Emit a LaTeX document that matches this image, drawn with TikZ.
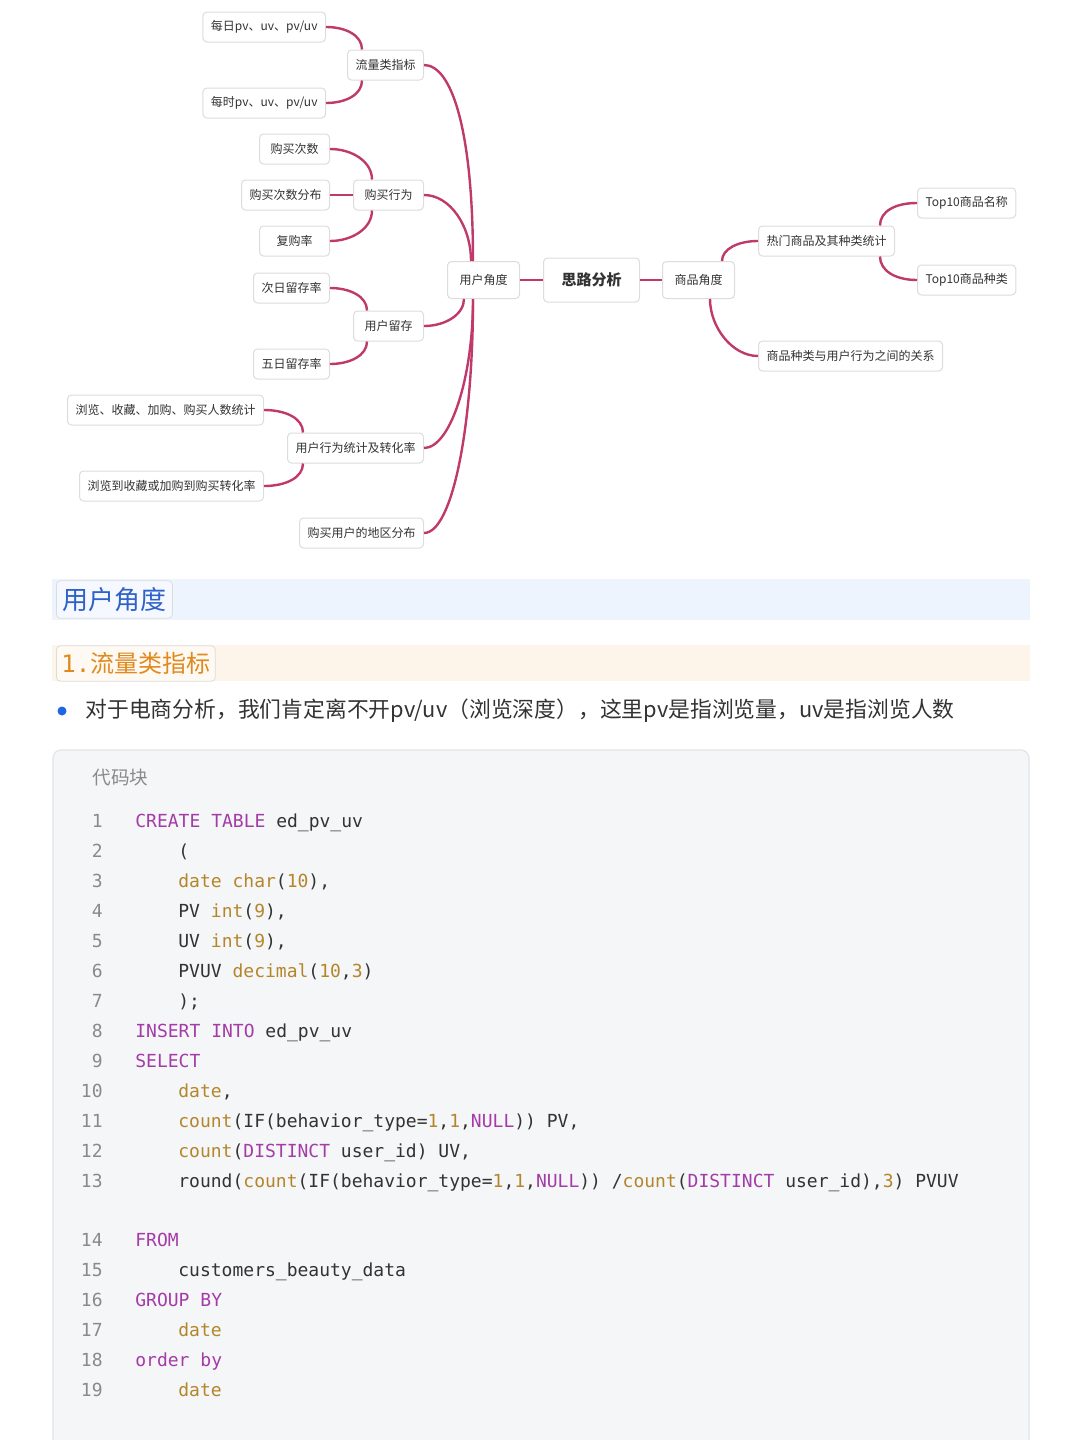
\documentclass[tikz,border=0pt]{standalone}
\usepackage{fontspec}
\setmainfont{Noto Sans CJK SC}
\setmonofont{DejaVu Sans Mono}
\usepackage{xcolor}
\usetikzlibrary{positioning}

\definecolor{lianxian}{HTML}{BF3A6A}
\definecolor{kuangxian}{HTML}{DCDCDC}
\definecolor{wenzi}{HTML}{333333}
\definecolor{lanse}{HTML}{EEF4FD}
\definecolor{biaotilan}{HTML}{2F62C8}
\definecolor{chengse}{HTML}{FEF5EA}
\definecolor{biaotcheng}{HTML}{E08A1E}
\definecolor{diandian}{HTML}{1F66E0}
\definecolor{daimadi}{HTML}{F5F6F7}
\definecolor{daimakuang}{HTML}{E2E4E6}
\definecolor{guanjianzi}{HTML}{A43BA8}
\definecolor{hanshu}{HTML}{B4862B}
\definecolor{hanghao}{HTML}{8A8A8A}

\newcommand{\kw}[1]{\textcolor{guanjianzi}{#1}}
\newcommand{\fn}[1]{\textcolor{hanshu}{#1}}

\tikzset{
  kuang/.style={draw=kuangxian, fill=white, rounded corners=2pt, line width=0.5pt,
    inner xsep=4pt, inner ysep=0pt, minimum height=15pt, minimum width=35pt, text=wenzi,
    font=\fontsize{6}{7}\selectfont},
  lian/.style={draw=lianxian, line width=1.2pt},
  daima/.style={anchor=west, inner sep=0pt, text=wenzi, text height=6.6pt, text depth=0pt,
    font=\ttfamily\fontsize{9}{11}\selectfont},
  hao/.style={anchor=east, inner sep=0pt, text=hanghao, text height=6.6pt, text depth=0pt,
    font=\ttfamily\fontsize{9}{11}\selectfont}
}

\begin{document}
\begin{tikzpicture}[x=0.5pt, y=-0.5pt]
    \useasboundingbox (0,0) rectangle (1080,1440);

    % 节点

    \node[kuang, anchor=east] (meiri) at (326,27) {每日pv、uv、pv/uv};
    \node[kuang, anchor=east] (liuliang) at (424,65) {流量类指标};
    \node[kuang, anchor=east] (meishi) at (326,103) {每时pv、uv、pv/uv};
    \node[kuang, anchor=east] (cishu) at (330,149) {购买次数};
    \node[kuang, anchor=east] (fenbu) at (330,195) {购买次数分布};
    \node[kuang, anchor=east] (goumai) at (424,195) {购买行为};
    \node[kuang, anchor=east] (fugou) at (330,241) {复购率};
    \node[kuang, anchor=east] (ciri) at (330,288) {次日留存率};
    \node[kuang, anchor=east] (liucun) at (424,326) {用户留存};
    \node[kuang, anchor=east] (wuri) at (330,364) {五日留存率};
    \node[kuang, anchor=east] (renshu) at (264,410) {浏览、收藏、加购、购买人数统计};
    \node[kuang, anchor=east] (zhuanhua) at (424,448) {用户行为统计及转化率};
    \node[kuang, anchor=east] (zhuanhualv) at (264,486) {浏览到收藏或加购到购买转化率};
    \node[kuang, anchor=east] (diqu) at (424,533) {购买用户的地区分布};

    \node[kuang, anchor=east, minimum height=18.5pt, inner xsep=6pt] (yonghu) at (520,280) {用户角度};
    \node[kuang, minimum height=22pt, inner xsep=9pt, font=\bfseries\fontsize{7.5}{9}\selectfont] (silu) at (591.5,280) {思路分析};
    \node[kuang, anchor=west, minimum height=18.5pt, inner xsep=6pt] (shangpin) at (662,280) {商品角度};

    \node[kuang, anchor=west] (remen) at (758,241) {热门商品及其种类统计};
    \node[kuang, anchor=west] (mingcheng) at (917,203) {Top10商品名称};
    \node[kuang, anchor=west] (zhonglei) at (917,280) {Top10商品种类};
    \node[kuang, anchor=west] (guanxi) at (758,356) {商品种类与用户行为之间的关系};

    % 连线

    \draw[lian] (meiri.east) .. controls +(20,0) and +(0,-14) .. ([xshift=7.5pt]liuliang.north west);
    \draw[lian] (meishi.east) .. controls +(20,0) and +(0,14) .. ([xshift=7.5pt]liuliang.south west);
    \draw[lian] (cishu.east) .. controls +(22,0) and +(0,-18) .. ([xshift=9.5pt]goumai.north west);
    \draw[lian] (fenbu.east) -- (goumai.west);
    \draw[lian] (fugou.east) .. controls +(22,0) and +(0,18) .. ([xshift=9.5pt]goumai.south west);
    \draw[lian] (ciri.east) .. controls +(20,0) and +(0,-14) .. ([xshift=7pt]liucun.north west);
    \draw[lian] (wuri.east) .. controls +(20,0) and +(0,14) .. ([xshift=7pt]liucun.south west);
    \draw[lian] (renshu.east) .. controls +(22,0) and +(0,-14) .. ([xshift=8pt]zhuanhua.north west);
    \draw[lian] (zhuanhualv.east) .. controls +(22,0) and +(0,14) .. ([xshift=8pt]zhuanhua.south west);

    \draw[lian] (liuliang.east) .. controls +(28,0) and +(0,-130) .. ([xshift=13pt]yonghu.north west);
    \draw[lian] (goumai.east) .. controls +(26,0) and +(0,-35) .. ([xshift=12pt]yonghu.north west);
    \draw[lian] (liucun.east) .. controls +(22,0) and +(0,15) .. ([xshift=8.5pt]yonghu.south west);
    \draw[lian] (zhuanhua.east) .. controls +(26,0) and +(0,80) .. ([xshift=13pt]yonghu.south west);
    \draw[lian] (diqu.east) .. controls +(28,0) and +(0,130) .. ([xshift=13pt]yonghu.south west);

    \draw[lian] (yonghu.east) -- (silu.west);
    \draw[lian] (silu.east) -- (shangpin.west);

    \draw[lian] (remen.west) .. controls +(-20,0) and +(0,-12) .. ([xshift=-6.5pt]shangpin.north east);
    \draw[lian] (guanxi.west) .. controls +(-26,0) and +(0,28) .. ([xshift=24pt]shangpin.south west);
    \draw[lian] (mingcheng.west) .. controls +(-22,0) and +(0,-14) .. ([xshift=-7.5pt]remen.north east);
    \draw[lian] (zhonglei.west) .. controls +(-22,0) and +(0,14) .. ([xshift=-7.5pt]remen.south east);

    % 标题

    \fill[lanse] (52,579) rectangle (1030,620);
    \node[draw=kuangxian, fill=lanse!60!white, rounded corners=2pt, anchor=west, inner xsep=3pt,
      minimum height=18.5pt, text=biaotilan, font=\fontsize{13}{15}\selectfont] (biaoti) at (56,599.5) {用户角度};

    \fill[chengse] (52,645) rectangle (1030,681);
    \node[draw=kuangxian, fill=chengse!60!white, rounded corners=2pt, anchor=west, inner xsep=2.5pt,
      minimum height=16.5pt, text=biaotcheng, font=\fontsize{12}{14}\selectfont] (xiaobiaoti) at (56,663.5) {{\ttfamily 1.}流量类指标};

    \node[circle, fill=diandian, inner sep=0pt, minimum size=4.5pt] (dian) at (62,711) {};
    \node[anchor=west, inner sep=0pt, text=wenzi, font=\fontsize{10.9}{12}\selectfont] (shuoming) at (85,711)
      {对于电商分析，我们肯定离不开pv/uv（浏览深度），这里pv是指浏览量，uv是指浏览人数};

    % 代码块

    \draw[draw=daimakuang, fill=daimadi, rounded corners=4pt, line width=0.6pt] (53,750) rectangle (1029,1470);
    \node[anchor=west, inner sep=0pt, text=hanghao, font=\fontsize{9.3}{11}\selectfont] (daimakuai) at (92,778) {代码块};

    \node[hao] (h1) at (103,821) {1};
    \node[hao] (h2) at (103,851) {2};
    \node[hao] (h3) at (103,881) {3};
    \node[hao] (h4) at (103,911) {4};
    \node[hao] (h5) at (103,941) {5};
    \node[hao] (h6) at (103,971) {6};
    \node[hao] (h7) at (103,1001) {7};
    \node[hao] (h8) at (103,1031) {8};
    \node[hao] (h9) at (103,1061) {9};
    \node[hao] (h10) at (103,1091) {10};
    \node[hao] (h11) at (103,1121) {11};
    \node[hao] (h12) at (103,1151) {12};
    \node[hao] (h13) at (103,1181) {13};
    \node[hao] (h14) at (103,1240) {14};
    \node[hao] (h15) at (103,1270) {15};
    \node[hao] (h16) at (103,1300) {16};
    \node[hao] (h17) at (103,1330) {17};
    \node[hao] (h18) at (103,1360) {18};
    \node[hao] (h19) at (103,1390) {19};

    \node[daima] (d1) at (135,821) {\kw{CREATE TABLE} ed\_pv\_uv};
    \node[daima] (d2) at (178,851) {(};
    \node[daima] (d3) at (178,881) {\fn{date char}(\fn{10}),};
    \node[daima] (d4) at (178,911) {PV \fn{int}(\fn{9}),};
    \node[daima] (d5) at (178,941) {UV \fn{int}(\fn{9}),};
    \node[daima] (d6) at (178,971) {PVUV \fn{decimal}(\fn{10},\fn{3})};
    \node[daima] (d7) at (178,1001) {);};
    \node[daima] (d8) at (135,1031) {\kw{INSERT INTO} ed\_pv\_uv};
    \node[daima] (d9) at (135,1061) {\kw{SELECT}};
    \node[daima] (d10) at (178,1091) {\fn{date},};
    \node[daima] (d11) at (178,1121) {\fn{count}(IF(behavior\_type=\fn{1},\fn{1},\kw{NULL})) PV,};
    \node[daima] (d12) at (178,1151) {\fn{count}(\kw{DISTINCT} user\_id) UV,};
    \node[daima] (d13) at (178,1181) {round(\fn{count}(IF(behavior\_type=\fn{1},\fn{1},\kw{NULL})) /\fn{count}(\kw{DISTINCT} user\_id),\fn{3}) PVUV};
    \node[daima] (d14) at (135,1240) {\kw{FROM}};
    \node[daima] (d15) at (178,1270) {customers\_beauty\_data};
    \node[daima] (d16) at (135,1300) {\kw{GROUP BY}};
    \node[daima] (d17) at (178,1330) {\fn{date}};
    \node[daima] (d18) at (135,1360) {\kw{order by}};
    \node[daima] (d19) at (178,1390) {\fn{date}};

\end{tikzpicture}
\end{document}
